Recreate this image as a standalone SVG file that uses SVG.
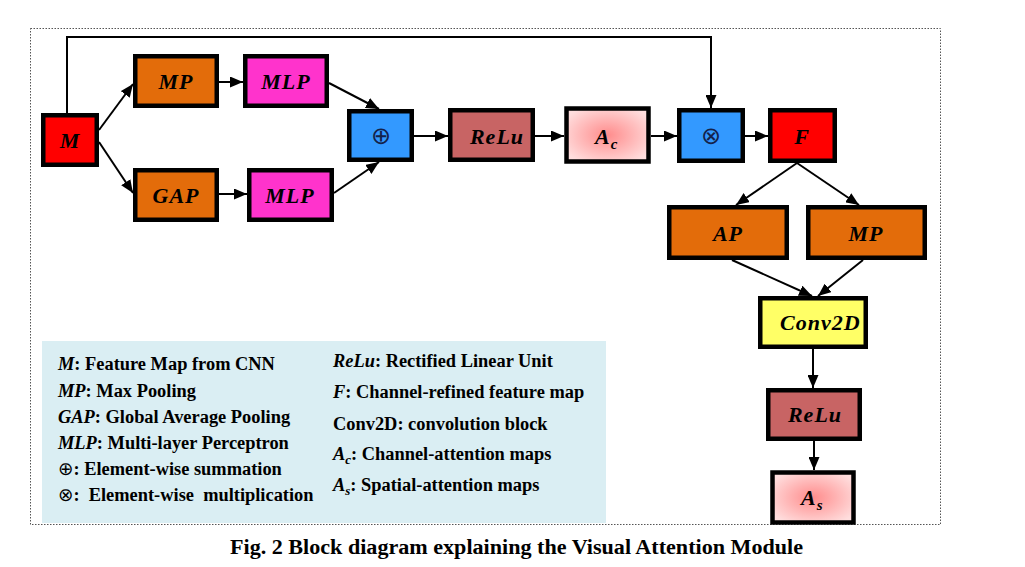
<svg xmlns="http://www.w3.org/2000/svg" width="1025" height="567" viewBox="0 0 1025 567">
<defs>
<style>
.box{stroke:#000;stroke-width:4.5}
.lbl{font-family:"Liberation Serif",serif;font-weight:bold;font-style:italic;font-size:22px;fill:#000;text-anchor:middle;letter-spacing:1px}
.lbl.st{text-anchor:start}
.sym{font-family:"DejaVu Sans",sans-serif;font-size:24px;fill:#14224a;text-anchor:middle}
.con line,.con polyline{stroke:#000;stroke-width:2;fill:none;marker-end:url(#ah)}
.leg{font-family:"Liberation Serif",serif;font-weight:bold;font-size:18.4px;fill:#000}
.it{font-style:italic}
.thin{font-family:"DejaVu Sans",sans-serif;font-weight:normal}
.cap{font-family:"Liberation Serif",serif;font-weight:bold;font-size:20px;fill:#000}
</style>
<marker id="ah" markerUnits="userSpaceOnUse" markerWidth="13" markerHeight="11" refX="13" refY="5.5" orient="auto">
<path d="M0,0 L13,5.5 L0,11 z" fill="#000"/>
</marker>
<radialGradient id="pink" cx="50%" cy="50%" r="60%">
<stop offset="0" stop-color="#ff8c8c"/>
<stop offset="1" stop-color="#ffdede"/>
</radialGradient>
</defs>
<rect x="30.5" y="28.5" width="910" height="496" fill="none" stroke="#555" stroke-width="1" stroke-dasharray="1.5,1.5"/>
<rect x="42" y="341" width="564" height="182" fill="#daeef3"/>

<g class="con">
<polyline points="67,113 67,37 711,37 711,108"/>
<line x1="99" y1="130" x2="133" y2="84"/>
<line x1="99" y1="142" x2="133" y2="193"/>
<line x1="219" y1="82" x2="243" y2="82"/>
<line x1="219" y1="194" x2="247" y2="194"/>
<line x1="329" y1="83" x2="379" y2="109"/>
<line x1="334" y1="193" x2="379" y2="162"/>
<line x1="414" y1="136" x2="448" y2="136"/>
<line x1="535" y1="136" x2="564" y2="136"/>
<line x1="651" y1="136" x2="677" y2="136"/>
<line x1="745" y1="136" x2="768" y2="136"/>
<line x1="797" y1="163" x2="736" y2="205"/>
<line x1="797" y1="163" x2="859" y2="205"/>
<line x1="732" y1="260" x2="812" y2="296"/>
<line x1="863" y1="260" x2="818" y2="296"/>
<line x1="813" y1="349" x2="813" y2="388"/>
<line x1="814" y1="441" x2="814" y2="470"/>
</g>

<g id="node-M"><rect class="box" x="43.25" y="115.25" width="53.5" height="49.5" fill="#ff0000"/><text class="lbl" x="70" y="148">M</text></g>
<g id="node-MP1"><rect class="box" x="135.25" y="56.25" width="81.5" height="49.5" fill="#e36c0a"/><text class="lbl" x="176" y="89">MP</text></g>
<g id="node-MLP1"><rect class="box" x="245.25" y="56.25" width="81.5" height="49.5" fill="#ff33cc"/><text class="lbl" x="286" y="89">MLP</text></g>
<g id="node-GAP"><rect class="box" x="135.25" y="170.25" width="81.5" height="49.5" fill="#e36c0a"/><text class="lbl" x="176" y="203">GAP</text></g>
<g id="node-MLP2"><rect class="box" x="249.25" y="170.25" width="82.5" height="49.5" fill="#ff33cc"/><text class="lbl" x="290" y="203">MLP</text></g>
<g id="node-sum"><rect class="box" x="349.25" y="111.25" width="62.5" height="48.5" fill="#3399ff"/><text class="sym" x="381" y="144">⊕</text></g>
<g id="node-ReLu1"><rect class="box" x="450.25" y="110.25" width="82.5" height="49.5" fill="#c86464"/><text class="lbl" x="497" y="144">ReLu</text></g>
<g id="node-Ac"><rect class="box" x="566.5" y="108.5" width="82" height="53" fill="url(#pink)" stroke-width="5"/><text class="lbl st" x="595" y="144">A<tspan font-size="15" dy="5">c</tspan></text></g>
<g id="node-mul"><rect class="box" x="679.25" y="110.25" width="63.5" height="50.5" fill="#3399ff"/><text class="sym" x="711" y="144">⊗</text></g>
<g id="node-F"><rect class="box" x="770.25" y="110.25" width="64.5" height="50.5" fill="#ff0000"/><text class="lbl" x="802" y="144">F</text></g>
<g id="node-AP"><rect class="box" x="669.25" y="207.25" width="117.5" height="50.5" fill="#e36c0a"/><text class="lbl" x="728" y="241">AP</text></g>
<g id="node-MP2"><rect class="box" x="808.25" y="207.25" width="116.5" height="50.5" fill="#e36c0a"/><text class="lbl" x="866" y="241">MP</text></g>
<g id="node-Conv2D"><rect class="box" x="760.25" y="298.25" width="105.5" height="48.5" fill="#ffff66"/><text class="lbl st" x="780" y="330">Conv2D</text></g>
<g id="node-ReLu2"><rect class="box" x="768.25" y="390.25" width="91.5" height="48.5" fill="#c86464"/><text class="lbl" x="815" y="422">ReLu</text></g>
<g id="node-As"><rect class="box" x="772.5" y="472.5" width="81" height="50" fill="url(#pink)" stroke-width="5"/><text class="lbl st" x="801" y="505">A<tspan font-size="15" dy="5">s</tspan></text></g>

<g id="legend">
<text class="leg" x="58" y="370"><tspan class="it">M</tspan>: Feature Map from CNN</text>
<text class="leg" x="58" y="397"><tspan class="it">MP</tspan>: Max Pooling</text>
<text class="leg" x="58" y="423"><tspan class="it">GAP</tspan>: Global Average Pooling</text>
<text class="leg" x="58" y="449"><tspan class="it">MLP</tspan>: Multi-layer Perceptron</text>
<text class="leg" x="58" y="475"><tspan class="thin">⊕</tspan>: Element-wise summation</text>
<text class="leg" x="58" y="501" xml:space="preserve"><tspan class="thin">⊗</tspan>:  Element-wise  multiplication</text>
<text class="leg" x="333" y="367"><tspan class="it">ReLu</tspan>: Rectified Linear Unit</text>
<text class="leg" x="333" y="398"><tspan class="it">F</tspan>: Channel-refined feature map</text>
<text class="leg" x="333" y="430">Conv2D: convolution block</text>
<text class="leg" x="333" y="460"><tspan class="it">A</tspan><tspan class="it" font-size="13" dy="4">c</tspan><tspan dy="-4">: Channel-attention maps</tspan></text>
<text class="leg" x="333" y="491"><tspan class="it">A</tspan><tspan class="it" font-size="13" dy="4">s</tspan><tspan dy="-4">: Spatial-attention maps</tspan></text>
</g>
<text class="cap" x="230" y="554" textLength="573" lengthAdjust="spacingAndGlyphs">Fig. 2 Block diagram explaining the Visual Attention Module</text>
</svg>
